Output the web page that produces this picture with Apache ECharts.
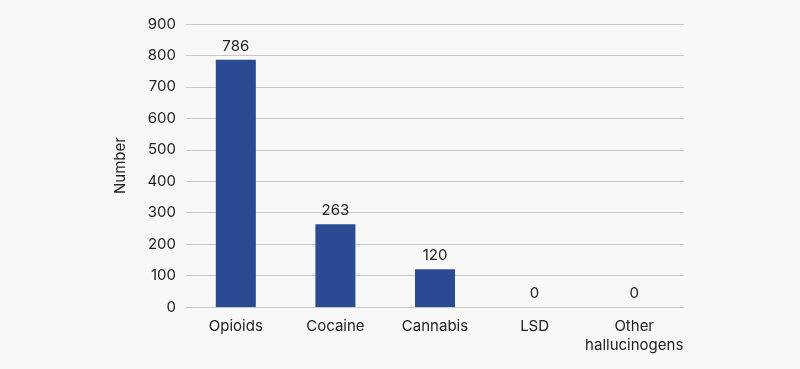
<!DOCTYPE html>
<html><head><meta charset="utf-8">
<script src="https://cdn.jsdelivr.net/npm/echarts@6/dist/echarts.min.js"></script>
<style>html,body{margin:0;padding:0;background:#f8f8f8;}#c{width:800px;height:369px;}</style>
</head><body><div id="c"></div>
<script>
const categories = ['Opioids', 'Cocaine', 'Cannabis', 'LSD', 'Other\nhallucinogens'];
const values = [786, 263, 120, 0, 0];
const yTicks = [0, 100, 200, 300, 400, 500, 600, 700, 800, 900];

const chart = echarts.init(document.getElementById('c'));
chart.setOption({
  backgroundColor: '#f8f8f8',
  textStyle: { fontFamily: 'Inter, "Noto Sans", sans-serif' },
  grid: { left: 186, right: 116, top: 24, bottom: 62 },
  xAxis: {
    type: 'category', data: categories,
    axisLine: { show: true, lineStyle: { color: '#c8c8c8' } },
    axisTick: { show: false },
    axisLabel: { color: '#222', fontSize: 15, margin: 10, lineHeight: 19, interval: 0 }
  },
  yAxis: {
    type: 'value', min: yTicks[0], max: yTicks[yTicks.length - 1], interval: 100,
    name: 'Number', nameLocation: 'middle', nameGap: 58, nameRotate: 90,
    nameTextStyle: { color: '#222', fontSize: 15 },
    axisLine: { show: false }, axisTick: { show: false },
    axisLabel: { color: '#222', fontSize: 15, margin: 10 },
    splitLine: { lineStyle: { color: '#c8c8c8' } }
  },
  series: [{
    type: 'bar', data: values, barWidth: 40,
    itemStyle: { color: '#2a4a93' },
    label: { show: true, position: 'top', color: '#222', fontSize: 15, distance: 6 }
  }]
});
</script></body></html>
